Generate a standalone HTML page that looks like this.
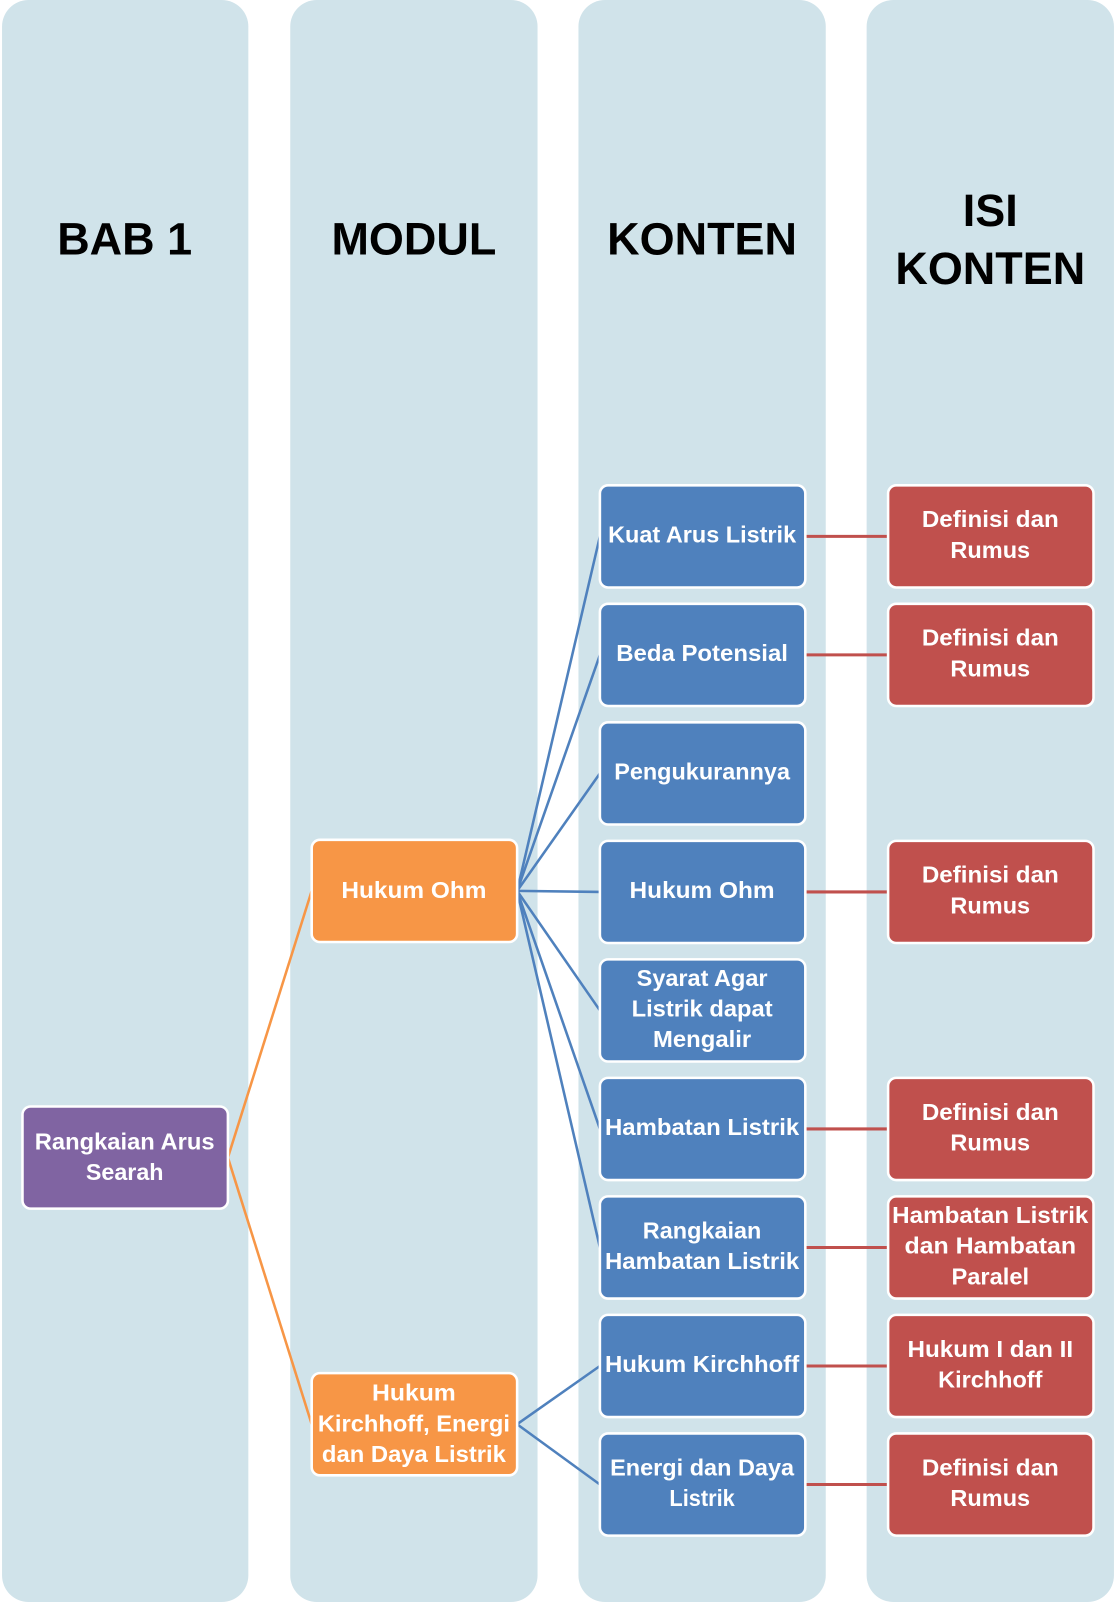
<!DOCTYPE html>
<html><head><meta charset="utf-8"><style>
html,body{margin:0;padding:0;background:#fff}
svg{display:block}
text{font-family:"Liberation Sans",sans-serif;font-weight:bold;text-anchor:middle}
.t{fill:#fff;font-size:23px}
.h{fill:#000;font-size:44px}
</style></head><body>
<svg width="1116" height="1602" viewBox="0 0 1092 1568" preserveAspectRatio="none" xmlns="http://www.w3.org/2000/svg">
<g fill="#d0e3ea">
<rect x="2" y="0" width="241" height="1568" rx="26"/>
<rect x="284" y="0" width="242" height="1568" rx="26"/>
<rect x="566" y="0" width="242" height="1568" rx="26"/>
<rect x="848" y="0" width="242" height="1568" rx="26"/>
</g>
<text class="h" x="122" y="249">BAB 1</text>
<text class="h" x="405" y="249">MODUL</text>
<text class="h" x="687" y="249">KONTEN</text>
<text class="h" x="969" y="221">ISI</text>
<text class="h" x="969" y="278">KONTEN</text>
<g stroke="#f79646" stroke-width="2.5" fill="none">
<line x1="223" y1="1133" x2="305" y2="872"/>
<line x1="223" y1="1133" x2="305" y2="1394"/>
</g>
<g stroke="#4f81bd" stroke-width="2.5" fill="none">
<line x1="506" y1="872" x2="587" y2="525"/>
<line x1="506" y1="872" x2="587" y2="641"/>
<line x1="506" y1="872" x2="587" y2="757"/>
<line x1="506" y1="872" x2="587" y2="873"/>
<line x1="506" y1="872" x2="587" y2="989"/>
<line x1="506" y1="872" x2="587" y2="1105"/>
<line x1="506" y1="872" x2="587" y2="1221"/>
<line x1="506" y1="1394" x2="587" y2="1337"/>
<line x1="506" y1="1394" x2="587" y2="1453"/>
</g>
<g stroke="#c0504d" stroke-width="3" fill="none">
<line x1="788" y1="525" x2="869" y2="525"/>
<line x1="788" y1="641" x2="869" y2="641"/>
<line x1="788" y1="873" x2="869" y2="873"/>
<line x1="788" y1="1105" x2="869" y2="1105"/>
<line x1="788" y1="1221" x2="869" y2="1221"/>
<line x1="788" y1="1337" x2="869" y2="1337"/>
<line x1="788" y1="1453" x2="869" y2="1453"/>
</g>
<g stroke="#fff" stroke-width="2.5">
<rect x="22" y="1083" width="201" height="100" rx="8" fill="#8064a2"/>
<rect x="305" y="822" width="201" height="100" rx="8" fill="#f79646"/>
<rect x="305" y="1344" width="201" height="100" rx="8" fill="#f79646"/>
<g fill="#4f81bd">
<rect x="587" y="475" width="201" height="100" rx="8"/>
<rect x="587" y="591" width="201" height="100" rx="8"/>
<rect x="587" y="707" width="201" height="100" rx="8"/>
<rect x="587" y="823" width="201" height="100" rx="8"/>
<rect x="587" y="939" width="201" height="100" rx="8"/>
<rect x="587" y="1055" width="201" height="100" rx="8"/>
<rect x="587" y="1171" width="201" height="100" rx="8"/>
<rect x="587" y="1287" width="201" height="100" rx="8"/>
<rect x="587" y="1403" width="201" height="100" rx="8"/>
</g>
<g fill="#c0504d">
<rect x="869" y="475" width="201" height="100" rx="8"/>
<rect x="869" y="591" width="201" height="100" rx="8"/>
<rect x="869" y="823" width="201" height="100" rx="8"/>
<rect x="869" y="1055" width="201" height="100" rx="8"/>
<rect x="869" y="1171" width="201" height="100" rx="8"/>
<rect x="869" y="1287" width="201" height="100" rx="8"/>
<rect x="869" y="1403" width="201" height="100" rx="8"/>
</g>
</g>
<g>
<text class="t" x="122" y="1125" textLength="176" lengthAdjust="spacingAndGlyphs">Rangkaian Arus</text>
<text class="t" x="122" y="1155" textLength="76" lengthAdjust="spacingAndGlyphs">Searah</text>
<text class="t" x="405" y="879" textLength="142" lengthAdjust="spacingAndGlyphs">Hukum Ohm</text>
<text class="t" x="405" y="1371" textLength="82" lengthAdjust="spacingAndGlyphs">Hukum</text>
<text class="t" x="405" y="1401" textLength="188" lengthAdjust="spacingAndGlyphs">Kirchhoff, Energi</text>
<text class="t" x="405" y="1431" textLength="180" lengthAdjust="spacingAndGlyphs">dan Daya Listrik</text>

<text class="t" x="687" y="531" textLength="184" lengthAdjust="spacingAndGlyphs">Kuat Arus Listrik</text>
<text class="t" x="687" y="647" textLength="168" lengthAdjust="spacingAndGlyphs">Beda Potensial</text>
<text class="t" x="687" y="763" textLength="172" lengthAdjust="spacingAndGlyphs">Pengukurannya</text>
<text class="t" x="687" y="879" textLength="142" lengthAdjust="spacingAndGlyphs">Hukum Ohm</text>
<text class="t" x="687" y="965" textLength="128" lengthAdjust="spacingAndGlyphs">Syarat Agar</text>
<text class="t" x="687" y="995" textLength="138" lengthAdjust="spacingAndGlyphs">Listrik dapat</text>
<text class="t" x="687" y="1025" textLength="96" lengthAdjust="spacingAndGlyphs">Mengalir</text>
<text class="t" x="687" y="1111" textLength="190" lengthAdjust="spacingAndGlyphs">Hambatan Listrik</text>
<text class="t" x="687" y="1212" textLength="116" lengthAdjust="spacingAndGlyphs">Rangkaian</text>
<text class="t" x="687" y="1242" textLength="190" lengthAdjust="spacingAndGlyphs">Hambatan Listrik</text>
<text class="t" x="687" y="1343" textLength="190" lengthAdjust="spacingAndGlyphs">Hukum Kirchhoff</text>
<text class="t" x="687" y="1444" textLength="180" lengthAdjust="spacingAndGlyphs">Energi dan Daya</text>
<text class="t" x="687" y="1474" textLength="64" lengthAdjust="spacingAndGlyphs">Listrik</text>

<text class="t" x="969" y="516" textLength="134" lengthAdjust="spacingAndGlyphs">Definisi dan</text>
<text class="t" x="969" y="546" textLength="78" lengthAdjust="spacingAndGlyphs">Rumus</text>
<text class="t" x="969" y="632" textLength="134" lengthAdjust="spacingAndGlyphs">Definisi dan</text>
<text class="t" x="969" y="662" textLength="78" lengthAdjust="spacingAndGlyphs">Rumus</text>
<text class="t" x="969" y="864" textLength="134" lengthAdjust="spacingAndGlyphs">Definisi dan</text>
<text class="t" x="969" y="894" textLength="78" lengthAdjust="spacingAndGlyphs">Rumus</text>
<text class="t" x="969" y="1096" textLength="134" lengthAdjust="spacingAndGlyphs">Definisi dan</text>
<text class="t" x="969" y="1126" textLength="78" lengthAdjust="spacingAndGlyphs">Rumus</text>
<text class="t" x="969" y="1197" textLength="192" lengthAdjust="spacingAndGlyphs">Hambatan Listrik</text>
<text class="t" x="969" y="1227" textLength="168" lengthAdjust="spacingAndGlyphs">dan Hambatan</text>
<text class="t" x="969" y="1257" textLength="76" lengthAdjust="spacingAndGlyphs">Paralel</text>
<text class="t" x="969" y="1328" textLength="162" lengthAdjust="spacingAndGlyphs">Hukum I dan II</text>
<text class="t" x="969" y="1358" textLength="102" lengthAdjust="spacingAndGlyphs">Kirchhoff</text>
<text class="t" x="969" y="1444" textLength="134" lengthAdjust="spacingAndGlyphs">Definisi dan</text>
<text class="t" x="969" y="1474" textLength="78" lengthAdjust="spacingAndGlyphs">Rumus</text>
</g>
</svg>
</body></html>
